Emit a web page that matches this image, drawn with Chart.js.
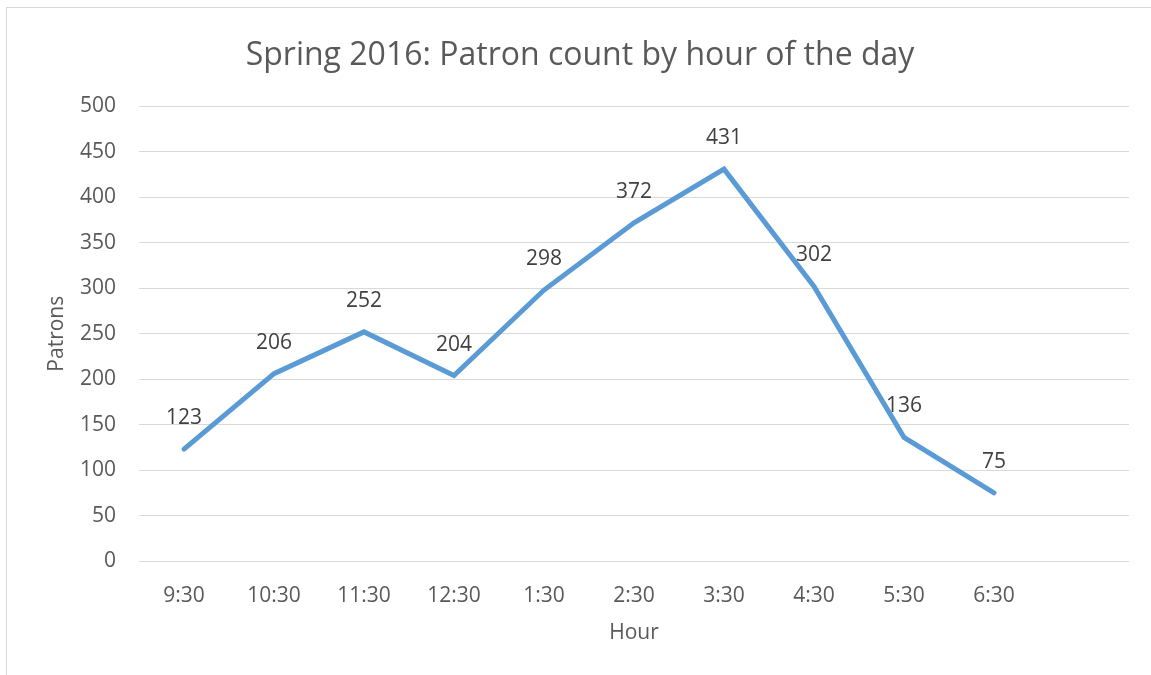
<!DOCTYPE html>
<html>
<head>
<meta charset="utf-8">
<script src="https://cdn.jsdelivr.net/npm/chart.js@4"></script>
<style>
  body { margin: 0; background: #fff; overflow: hidden; }
  #wrap { position: relative; width: 1151px; height: 675px; }
  #frame { position: absolute; left: 6px; top: 7px; width: 2000px; height: 2000px; border: 1px solid #d9d9d9; }
  #myChart { position: absolute; left: 0; top: 0; }
</style>
</head>
<body>
<div id="wrap">
  <div id="frame"></div>
  <canvas id="myChart" width="1151" height="675"></canvas>
</div>
<script>
const hours = ["9:30", "10:30", "11:30", "12:30", "1:30", "2:30", "3:30", "4:30", "5:30", "6:30", ""];
const patrons = [123, 206, 252, 204, 298, 372, 431, 302, 136, 75];
const yTicks = [0, 50, 100, 150, 200, 250, 300, 350, 400, 450, 500];

const fontName = "'Open Sans'";
const tickGray = "#595959";

// draws the value above each point
const pointLabels = {
  id: "pointLabels",
  afterDatasetsDraw(chart) {
    const ctx = chart.ctx;
    const meta = chart.getDatasetMeta(0);
    ctx.save();
    ctx.font = "21px " + fontName;
    ctx.fillStyle = "#404040";
    ctx.textAlign = "center";
    ctx.textBaseline = "middle";
    meta.data.forEach((pt, i) => {
      ctx.fillText(String(patrons[i]), pt.x, pt.y - 31);
    });
    ctx.restore();
  },
};

const canvasArea = document.getElementById("myChart").getContext("2d");
const data = {
  labels: hours,
  datasets: [
    {
      data: patrons,
      borderColor: "#5B9BD5",
      borderWidth: 5,
      borderCapStyle: "round",
      pointRadius: 0,
      tension: 0,
      fill: false,
    },
  ],
};
const config = {
  type: "line",
  data: data,
  plugins: [pointLabels],
  options: {
    responsive: false,
    animation: false,
    layout: { padding: { left: 9, right: 0, top: 0, bottom: 0 } },
    plugins: {
      legend: { display: false },
      tooltip: { enabled: false },
      title: {
        display: true,
        text: "Spring 2016: Patron count by hour of the day",
        color: tickGray,
        font: { family: fontName, size: 32, weight: "normal" },
        padding: { top: 37, bottom: 31 },
      },
    },
    scales: {
      x: {
        offset: true,
        grid: { display: false },
        border: { display: false },
        ticks: { color: tickGray, font: { family: fontName, size: 21 }, padding: 14, maxRotation: 0, autoSkip: false },
        title: { display: true, text: "Hour", color: tickGray, font: { family: fontName, size: 21 }, padding: { top: 0, bottom: 29 } },
        afterFit(scale) { scale.height = 114; },
      },
      y: {
        min: 0,
        max: 500,
        afterBuildTicks(scale) { scale.ticks = yTicks.map(v => ({ value: v })); },
        grid: { color: "#d9d9d9", lineWidth: 1, drawTicks: false },
        border: { display: false },
        ticks: { color: tickGray, font: { family: fontName, size: 21 }, padding: 23 },
        title: { display: true, text: "Patrons", color: tickGray, font: { family: fontName, size: 21 }, padding: { top: 35, bottom: 0 } },
        afterFit(scale) { scale.width = 130; },
      },
      // empty strip on the right so the plot ends at the same place
      yRight: {
        position: "right",
        min: 0,
        max: 500,
        grid: { display: false },
        border: { display: false },
        ticks: { display: false },
        afterFit(scale) { scale.width = 22; },
      },
    },
  },
};
const myChartOne = new Chart(canvasArea, config);
</script>
</body>
</html>
